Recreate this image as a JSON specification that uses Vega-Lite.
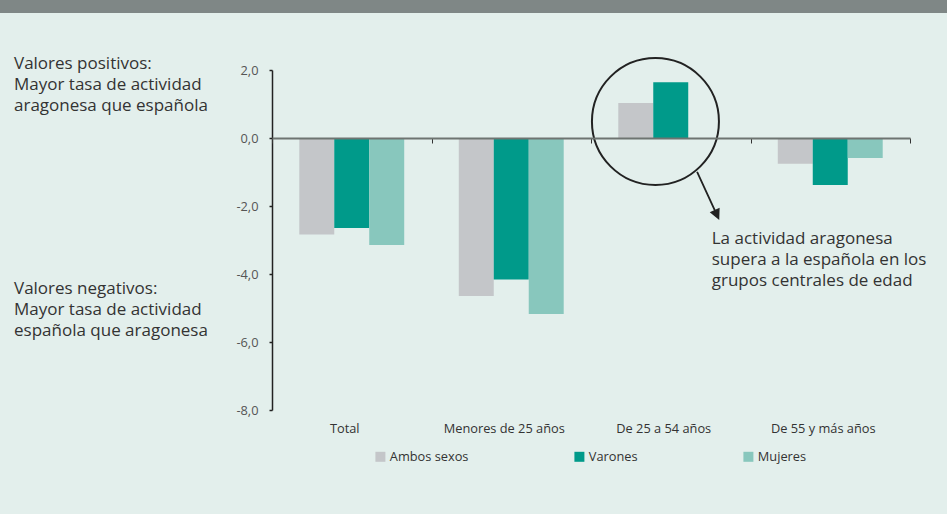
{
  "$schema": "https://vega.github.io/schema/vega-lite/v6.json",
  "width": 947,
  "height": 514,
  "autosize": "none",
  "padding": 0,
  "background": "#e3efec",
  "config": {"view": {"stroke": null}, "font": "Open Sans", "text": {"font": "Open Sans"}},
  "layer": [
    {
      "data": {"values": [{}]},
      "mark": {"type": "rule", "color": "#7f8786", "strokeWidth": 13},
      "encoding": {
        "y": {"datum": 3.87, "type": "quantitative", "scale": {"domain": [-8, 2], "range": [410, 70], "nice": false, "zero": false}, "axis": null}
      }
    },
    {
      "data": {"values": [
        {"grupo": "Total", "serie": "Ambos sexos", "valor": -2.84},
        {"grupo": "Total", "serie": "Varones", "valor": -2.65},
        {"grupo": "Total", "serie": "Mujeres", "valor": -3.15},
        {"grupo": "Menores de 25 años", "serie": "Ambos sexos", "valor": -4.65},
        {"grupo": "Menores de 25 años", "serie": "Varones", "valor": -4.16},
        {"grupo": "Menores de 25 años", "serie": "Mujeres", "valor": -5.18},
        {"grupo": "De 25 a 54 años", "serie": "Ambos sexos", "valor": 1.03},
        {"grupo": "De 25 a 54 años", "serie": "Varones", "valor": 1.64},
        {"grupo": "De 25 a 54 años", "serie": "Mujeres", "valor": 0.0},
        {"grupo": "De 55 y más años", "serie": "Ambos sexos", "valor": -0.76},
        {"grupo": "De 55 y más años", "serie": "Varones", "valor": -1.38},
        {"grupo": "De 55 y más años", "serie": "Mujeres", "valor": -0.59}
      ]},
      "mark": {"type": "bar"},
      "encoding": {
        "x": {
          "field": "grupo", "type": "nominal",
          "scale": {"domain": ["Total", "Menores de 25 años", "De 25 a 54 años", "De 55 y más años"], "range": [272, 910], "paddingInner": 0, "paddingOuter": 0},
          "axis": {"orient": "bottom", "offset": -104, "domain": false, "ticks": false, "tickSize": 0, "labelAngle": 0, "labelPadding": 12, "labelOffset": -7, "labelFontSize": 12.8, "labelColor": "#333333", "labelFont": "Open Sans", "title": null}
        },
        "xOffset": {
          "field": "serie", "type": "nominal",
          "scale": {"domain": ["Ambos sexos", "Varones", "Mujeres"], "paddingInner": 0, "paddingOuter": 0.78}
        },
        "y": {
          "field": "valor", "type": "quantitative",
          "scale": {"domain": [-8, 2], "range": [410, 70], "nice": false, "zero": false},
          "axis": {
            "orient": "left", "offset": -272, "values": [-8, -6, -4, -2, 0, 2],
            "labelExpr": "replace(replace(format(datum.value, '.1f'), '.', ','), '\u2212', '-')",
            "grid": false, "domainColor": "#222222", "domainWidth": 1.5, "tickColor": "#222222", "tickSize": 3, "tickWidth": 1.5,
            "labelPadding": 11, "labelFontSize": 12.8, "labelColor": "#555555", "labelFont": "Open Sans", "title": null
          }
        },
        "color": {
          "field": "serie", "type": "nominal",
          "scale": {"domain": ["Ambos sexos", "Varones", "Mujeres"], "range": ["#c4c6c9", "#009a8a", "#88c7bd"]},
          "legend": {
            "orient": "none", "legendX": 374, "legendY": 450, "direction": "horizontal", "title": null,
            "symbolType": "square", "symbolSize": 100, "symbolStrokeWidth": 0, "labelOffset": 3,
            "labelFontSize": 12.8, "labelColor": "#333333", "labelFont": "Open Sans", "columnPadding": 104
          }
        }
      }
    },
    {
      "data": {"values": [{"grupo": "De 25 a 54 años", "valor": 0.485}]},
      "mark": {"type": "point", "shape": "circle", "filled": false, "stroke": "#222222", "strokeWidth": 2, "size": 16129, "opacity": 1},
      "encoding": {
        "x": {
          "field": "grupo", "type": "nominal", "bandPosition": 0.404,
          "scale": {"domain": ["Total", "Menores de 25 años", "De 25 a 54 años", "De 55 y más años"], "range": [272, 910], "paddingInner": 0, "paddingOuter": 0},
          "axis": {"orient": "top", "offset": -138, "domain": true, "domainColor": "#6e7471", "domainWidth": 2, "ticks": true, "tickBand": "extent", "tickSize": -5, "tickColor": "#333333", "tickWidth": 1, "labels": false, "title": null, "zindex": 1}
        },
        "y": {"field": "valor", "type": "quantitative", "scale": {"domain": [-8, 2], "range": [410, 70], "nice": false, "zero": false}, "axis": null}
      }
    },
    {
      "data": {"values": [{"grupo": "De 25 a 54 años", "valor": -1.674}]},
      "mark": {"type": "point", "shape": "M-0.426,-0.926L0.292,0.635M0.437,0.568L0.426,0.926L0.147,0.702Z", "filled": true, "color": "#222222", "stroke": "#222222", "strokeWidth": 1.8, "size": 2500, "opacity": 1},
      "encoding": {
        "x": {"field": "grupo", "type": "nominal", "bandPosition": 0.732, "scale": {"domain": ["Total", "Menores de 25 años", "De 25 a 54 años", "De 55 y más años"], "range": [272, 910], "paddingInner": 0, "paddingOuter": 0}, "axis": null},
        "y": {"field": "valor", "type": "quantitative", "scale": {"domain": [-8, 2], "range": [410, 70], "nice": false, "zero": false}, "axis": null}
      }
    },
    {
      "data": {"values": [{"grupo": "De 25 a 54 años", "valor": -2.98, "texto": "La actividad aragonesa\nsupera a la española en los\ngrupos centrales de edad"}]},
      "mark": {"type": "text", "align": "left", "baseline": "middle", "lineBreak": "\n", "lineHeight": 21, "fontSize": 17, "color": "#333333", "font": "Open Sans", "dx": 41},
      "encoding": {
        "x": {"field": "grupo", "type": "nominal", "scale": {"domain": ["Total", "Menores de 25 años", "De 25 a 54 años", "De 55 y más años"], "range": [272, 910], "paddingInner": 0, "paddingOuter": 0}, "axis": null},
        "y": {"field": "valor", "type": "quantitative", "scale": {"domain": [-8, 2], "range": [410, 70], "nice": false, "zero": false}, "axis": null},
        "text": {"field": "texto"}
      }
    },
    {
      "data": {"values": [
        {"grupo": "Total", "valor": 2.19, "texto": "Valores positivos:\nMayor tasa de actividad\naragonesa que española"},
        {"grupo": "Total", "valor": -4.44, "texto": "Valores negativos:\nMayor tasa de actividad\nespañola que aragonesa"}
      ]},
      "mark": {"type": "text", "align": "left", "baseline": "middle", "lineBreak": "\n", "lineHeight": 21, "fontSize": 17, "color": "#333333", "font": "Open Sans", "dx": -258},
      "encoding": {
        "x": {"field": "grupo", "type": "nominal", "bandPosition": 0, "scale": {"domain": ["Total", "Menores de 25 años", "De 25 a 54 años", "De 55 y más años"], "range": [272, 910], "paddingInner": 0, "paddingOuter": 0}, "axis": null},
        "y": {"field": "valor", "type": "quantitative", "scale": {"domain": [-8, 2], "range": [410, 70], "nice": false, "zero": false}, "axis": null},
        "text": {"field": "texto"}
      }
    }
  ],
  "resolve": {"axis": {"x": "independent", "y": "independent"}}
}
